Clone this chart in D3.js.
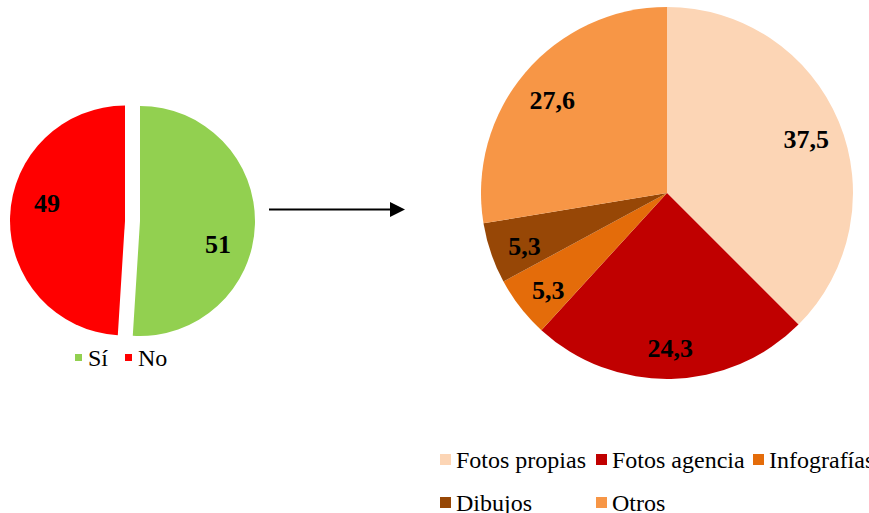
<!DOCTYPE html>
<html>
<head>
<meta charset="utf-8">
<script src="https://cdn.jsdelivr.net/npm/d3@7"></script>
<style>
  body { margin: 0; background: #fff; }
  svg text { font-family: "Liberation Serif", "Times New Roman", serif; }
</style>
</head>
<body>
<div id="chart-area"></div>
<script>
// Data
var leftCats = ["Sí", "No"];
var leftVals = [51, 49];
var leftColors = ["#92D050", "#FF0000"];

var rightCats = ["Fotos propias", "Fotos agencia", "Infografías", "Dibujos", "Otros"];
var rightVals = [37.5, 24.3, 5.3, 5.3, 27.6];
var rightColors = ["#FCD5B5", "#C00000", "#E46C0A", "#974706", "#F79646"];

var width = 869, height = 513;
var FONT = "'Liberation Serif', 'Times New Roman', serif";

var svg = d3.select("#chart-area").append("svg")
    .attr("width", width)
    .attr("height", height);

var fmt = function(v) { return String(v).replace(".", ","); };

var pie = d3.pie().sort(null).value(function(d) { return d; });

// ---------- left pie (exploded "No") ----------
var lr = 115;
var lg = svg.append("g").attr("transform", "translate(140,221)");
var lArc = d3.arc().innerRadius(0).outerRadius(lr);
var lData = pie(leftVals);
var explode = [0, 15];

var lSlices = lg.selectAll(".lslice").data(lData).enter().append("g")
    .attr("class", "lslice")
    .attr("transform", function(d, i) {
        var a = (d.startAngle + d.endAngle) / 2;
        return "translate(" + (Math.sin(a) * explode[i]) + "," + (-Math.cos(a) * explode[i]) + ")";
    });

lSlices.append("path")
    .attr("d", lArc)
    .attr("fill", function(d, i) { return leftColors[i]; });

// labels a bit rotated from mid angle (best fit)
lSlices.append("text")
    .attr("transform", function(d) {
        var a = (d.startAngle + d.endAngle) / 2 + 0.22;
        var rr = lr * 0.7;
        return "translate(" + (Math.sin(a) * rr) + "," + (-Math.cos(a) * rr) + ")";
    })
    .attr("text-anchor", "middle")
    .attr("dy", "0.45em")
    .style("font-family", FONT)
    .style("font-size", "26px")
    .style("font-weight", "bold")
    .text(function(d) { return fmt(d.data); });

// left legend
var leftLegX = [75, 125];
var ll = svg.append("g").selectAll(".lleg").data(leftCats).enter().append("g")
    .attr("transform", function(d, i) { return "translate(" + leftLegX[i] + ",358)"; });
ll.append("rect").attr("x", 0).attr("y", -4).attr("width", 7).attr("height", 7)
    .attr("fill", function(d, i) { return leftColors[i]; });
ll.append("text").attr("x", 13).attr("dy", "0.35em")
    .style("font-family", FONT)
    .style("font-size", "24px")
    .text(function(d) { return d; });

// ---------- arrow ----------
svg.append("defs").append("marker")
    .attr("id", "arrowhead")
    .attr("viewBox", "0 0 10 10")
    .attr("refX", 0).attr("refY", 5)
    .attr("markerWidth", 15).attr("markerHeight", 15)
    .attr("markerUnits", "userSpaceOnUse")
    .attr("orient", "auto")
    .append("path").attr("d", "M0,0 L10,5 L0,10 Z").attr("fill", "#000");

svg.append("line")
    .attr("x1", 269).attr("y1", 209.5)
    .attr("x2", 390).attr("y2", 209.5)
    .attr("stroke", "#000").attr("stroke-width", 2)
    .attr("marker-end", "url(#arrowhead)");

// ---------- right pie ----------
var rr = 186;
var rg = svg.append("g").attr("transform", "translate(667,193)");
var rArc = d3.arc().innerRadius(0).outerRadius(rr);
var rLabelArc = d3.arc().innerRadius(rr * 0.81).outerRadius(rr * 0.81);
var rData = pie(rightVals);

rg.selectAll(".rslice").data(rData).enter().append("path")
    .attr("class", "rslice")
    .attr("d", rArc)
    .attr("fill", function(d, i) { return rightColors[i]; });

rg.selectAll(".rlab").data(rData).enter().append("text")
    .attr("class", "rlab")
    .attr("transform", function(d) { return "translate(" + rLabelArc.centroid(d) + ")"; })
    .attr("text-anchor", "middle")
    .attr("dy", "0.5em")
    .style("font-family", FONT)
    .style("font-size", "26px")
    .style("font-weight", "bold")
    .text(function(d) { return fmt(d.data); });

// right legend (grid of 3 columns)
var colX = [440, 596, 753];
var rowY = [460, 503];
var rl = svg.append("g").selectAll(".rleg").data(rightCats).enter().append("g")
    .attr("transform", function(d, i) {
        return "translate(" + colX[i % 3] + "," + rowY[Math.floor(i / 3)] + ")";
    });
rl.append("rect").attr("x", 0).attr("y", -6).attr("width", 11).attr("height", 11)
    .attr("fill", function(d, i) { return rightColors[i]; });
rl.append("text").attr("x", 16).attr("dy", "0.35em")
    .style("font-family", FONT)
    .style("font-size", "24px")
    .text(function(d) { return d; });
</script>
</body>
</html>
